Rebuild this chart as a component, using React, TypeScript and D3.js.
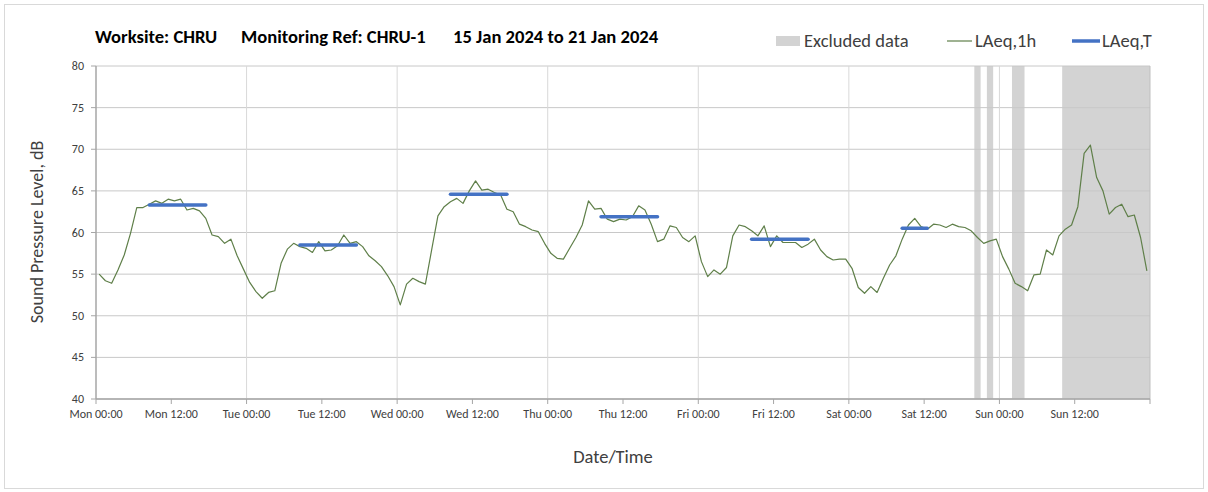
import React from "react";
import * as d3 from "d3";

// Hourly LAeq,1h values (dB), one array per day, Mon 15 Jan .. Sun 21 Jan 2024
const mon = [55.0, 54.2, 53.9, 55.5, 57.3, 59.9, 63.0, 63.0, 63.4, 63.8, 63.5, 64.0, 63.8, 64.0, 62.7, 62.9, 62.6, 61.7, 59.7, 59.5, 58.7, 59.2, 57.2, 55.6];
const tue = [54.0, 52.9, 52.1, 52.8, 53.0, 56.3, 58.0, 58.7, 58.3, 58.1, 57.6, 58.9, 57.8, 57.9, 58.4, 59.7, 58.7, 58.9, 58.3, 57.2, 56.6, 55.9, 54.8, 53.5];
const wed = [51.3, 53.8, 54.5, 54.1, 53.8, 57.9, 62.0, 63.1, 63.7, 64.1, 63.5, 65.0, 66.2, 65.1, 65.2, 64.8, 64.5, 62.8, 62.5, 61.0, 60.7, 60.3, 60.1, 58.7];
const thu = [57.5, 56.9, 56.8, 58.1, 59.4, 60.9, 63.8, 62.8, 62.9, 61.6, 61.3, 61.6, 61.5, 61.9, 63.2, 62.7, 61.0, 58.9, 59.2, 60.8, 60.6, 59.4, 58.9, 59.6];
const fri = [56.5, 54.7, 55.5, 55.0, 55.8, 59.6, 60.9, 60.7, 60.2, 59.6, 60.8, 58.3, 59.6, 58.8, 58.8, 58.8, 58.2, 58.6, 59.2, 57.9, 57.1, 56.7, 56.8, 56.8];
const sat = [55.7, 53.4, 52.7, 53.5, 52.8, 54.5, 56.1, 57.2, 59.2, 60.9, 61.7, 60.7, 60.4, 61.0, 60.9, 60.6, 61.0, 60.7, 60.6, 60.2, 59.4, 58.7, 59.0, 59.2];
const sun = [57.1, 55.6, 53.9, 53.5, 53.0, 54.9, 55.0, 57.9, 57.3, 59.6, 60.4, 60.9, 63.1, 69.5, 70.5, 66.6, 65.0, 62.2, 63.0, 63.4, 61.9, 62.1, 59.4, 55.4];

// LAeq,T period values (dB) and their hour spans (start hour index, end hour index)
const laeqTValues = [63.3, 58.5, 64.6, 61.9, 59.2, 60.5];
const laeqTStart = [8, 32, 56, 80, 104, 128];
const laeqTEnd = [17, 41, 65, 89, 113, 132];

// Excluded data periods, hours from Mon 00:00
const excludedStart = [140, 142, 146, 154];
const excludedEnd = [141, 143, 148, 168];

// Axis ticks
const xTickLabels = [
  "Mon 00:00", "Mon 12:00", "Tue 00:00", "Tue 12:00", "Wed 00:00", "Wed 12:00", "Thu 00:00",
  "Thu 12:00", "Fri 00:00", "Fri 12:00", "Sat 00:00", "Sat 12:00", "Sun 00:00", "Sun 12:00",
];
const yTicks = [40, 45, 50, 55, 60, 65, 70, 75, 80];

const hourly = [...mon, ...tue, ...wed, ...thu, ...fri, ...sat, ...sun];

const FONT = "Carlito, Lato, 'Open Sans', sans-serif";

export default function App() {
  const W = 1208;
  const H = 492;
  const left = 96;
  const right = 1150;
  const top = 66;
  const bottom = 399;

  const x = d3.scaleLinear().domain([0, 168]).range([left, right]);
  const y = d3.scaleLinear().domain([40, 80]).range([bottom, top]);

  const line = d3
    .line<number>()
    .x((_, i) => x(i + 0.5))
    .y((d) => y(d));

  const dayTicks = d3.range(0, 169, 24);
  const halfDayTicks = d3.range(0, 169, 12);

  const gridCol = "#d9d9d9";
  const axisCol = "#a6a6a6";
  const textCol = "#404040";
  const green = "#5f7f49";
  const blue = "#4472c4";
  const grey = "#d3d3d3";

  return (
    <svg width={W} height={H} style={{ position: "absolute", left: 0, top: 0, fontFamily: FONT }}>
      <rect x={0} y={0} width={W} height={H} fill="#fff" />
      <rect x={4.5} y={4.5} width={1199} height={484} fill="none" stroke="#d9d9d9" strokeWidth={1} />

      {/* Title */}
      <g fontWeight="bold" fontSize={18.6} fill="#000">
        <text x={95} y={43}>Worksite: CHRU</text>
        <text x={241} y={43}>Monitoring Ref: CHRU-1</text>
        <text x={453} y={43}>15 Jan 2024 to 21 Jan 2024</text>
      </g>

      {/* Legend */}
      <g fontSize={18.5} fill={textCol}>
        <rect x={776} y={36} width={24} height={10} fill={grey} />
        <text x={804} y={47}>Excluded data</text>
        <line x1={947} x2={972} y1={41} y2={41} stroke={green} strokeWidth={1.2} />
        <text x={975} y={47}>LAeq,1h</text>
        <line x1={1072} x2={1100} y1={41} y2={41} stroke={blue} strokeWidth={3.5} />
        <text x={1102} y={47}>LAeq,T</text>
      </g>

      {/* Excluded bands */}
      {excludedStart.map((s, i) => (
        <rect key={"ex" + i} x={x(s)} y={top} width={x(excludedEnd[i]) - x(s)} height={bottom - top} fill={grey} />
      ))}

      {/* Horizontal gridlines */}
      {yTicks.map((t) => (
        <line key={"hg" + t} x1={left} x2={right} y1={y(t)} y2={y(t)} stroke="#c8c8c8" strokeWidth={1} />
      ))}
      {/* Vertical gridlines at day boundaries */}
      {dayTicks.slice(1, -1).map((t) => (
        <line key={"vg" + t} x1={x(t)} x2={x(t)} y1={top} y2={bottom} stroke={gridCol} strokeWidth={1} />
      ))}
      {/* right border */}
      <line x1={right} x2={right} y1={top} y2={bottom} stroke="#bfbfbf" strokeWidth={1} />

      {/* Axes */}
      <line x1={left} x2={left} y1={top} y2={bottom} stroke={axisCol} strokeWidth={1.5} />
      <line x1={left} x2={right} y1={bottom} y2={bottom} stroke={axisCol} strokeWidth={1.5} />
      {yTicks.map((t) => (
        <g key={"yt" + t}>
          <line x1={left - 5} x2={left} y1={y(t)} y2={y(t)} stroke={axisCol} />
          <text x={left - 12} y={y(t) + 4} textAnchor="end" fontSize={12} fill={textCol}>
            {t}
          </text>
        </g>
      ))}
      {halfDayTicks.map((t) => (
        <line key={"xt" + t} x1={x(t)} x2={x(t)} y1={bottom} y2={bottom + 5} stroke={axisCol} />
      ))}
      {xTickLabels.map((lab, i) => (
        <text key={"xl" + i} x={x(i * 12)} y={bottom + 19} textAnchor="middle" fontSize={12} fill={textCol}>
          {lab}
        </text>
      ))}

      {/* Axis titles */}
      <text x={613} y={463} textAnchor="middle" fontSize={18.5} fill={textCol}>
        Date/Time
      </text>
      <text
        transform={`translate(43, 232) rotate(-90)`}
        textAnchor="middle"
        fontSize={18}
        fill={textCol}
      >
        Sound Pressure Level, dB
      </text>

      {/* LAeq,1h line */}
      <path d={line(hourly) || ""} fill="none" stroke={green} strokeWidth={1.2} strokeLinejoin="round" />

      {/* LAeq,T segments */}
      {laeqTValues.map((v, i) => (
        <line
          key={"lt" + i}
          x1={x(laeqTStart[i] + 0.5)}
          x2={x(laeqTEnd[i] + 0.5)}
          y1={y(v)}
          y2={y(v)}
          stroke={blue}
          strokeWidth={3.5}
          strokeLinecap="round"
        />
      ))}
    </svg>
  );
}
